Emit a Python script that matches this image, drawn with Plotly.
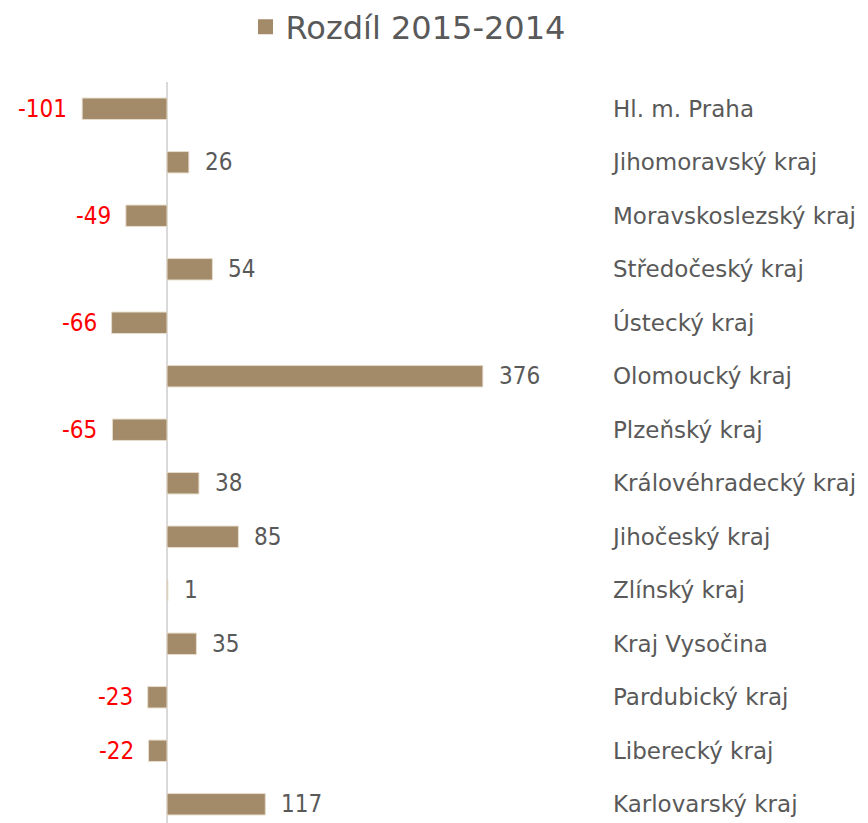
import plotly.graph_objects as go

categories = ["Hl. m. Praha", "Jihomoravský kraj", "Moravskoslezský kraj", "Středočeský kraj",
              "Ústecký kraj", "Olomoucký kraj", "Plzeňský kraj", "Královéhradecký kraj",
              "Jihočeský kraj", "Zlínský kraj", "Kraj Vysočina", "Pardubický kraj",
              "Liberecký kraj", "Karlovarský kraj"]
values = [-101, 26, -49, 54, -66, 376, -65, 38, 85, 1, 35, -23, -22, 117]
series_name = "Rozdíl 2015-2014"

FONT = "DejaVu Sans"
FONT_C = "DejaVu Sans Condensed"
BAR = "#A38A69"

fig = go.Figure()
fig.add_trace(go.Bar(
    x=values, y=categories, orientation="h", name=series_name,
    marker=dict(color=BAR, line=dict(color="#E6DCCB", width=1)),
    width=0.4, hoverinfo="x+y", showlegend=False,
))
# legend entry (square swatch)
fig.add_trace(go.Scatter(
    x=[None], y=[None], mode="markers", name=series_name,
    marker=dict(symbol="square", size=15, color=BAR), showlegend=True,
))

for c, v in zip(categories, values):
    neg = v < 0
    fig.add_annotation(
        x=v, y=c, text=str(v), showarrow=False,
        xanchor="right" if neg else "left", xshift=-13 if neg else 14,
        font=dict(family=FONT_C, size=24, color="#FF0000" if neg else "#595959"),
    )

fig.update_layout(
    width=860, height=815,
    margin=dict(l=0, r=264, t=74, b=0, autoexpand=False),
    paper_bgcolor="white", plot_bgcolor="white",
    showlegend=True,
    legend=dict(orientation="h", x=400 / 596, xanchor="center", xref="paper",
                y=1 - 19 / 815, yref="container", yanchor="middle",
                itemwidth=30,
                font=dict(family=FONT, size=32, color="#595959")),
    xaxis=dict(range=[-189.3, 520.2], showgrid=False, zeroline=True,
               zerolinecolor="#D9D9D9", zerolinewidth=2, showticklabels=False,
               showline=False, fixedrange=True),
    yaxis=dict(categoryorder="array", categoryarray=categories, range=[13.35, -0.5],
               side="right", showgrid=False, showline=False, ticks="",
               ticklabelstandoff=8, automargin=False,
               tickfont=dict(family=FONT, size=23, color="#595959")),
)

fig.write_html("out.html")
